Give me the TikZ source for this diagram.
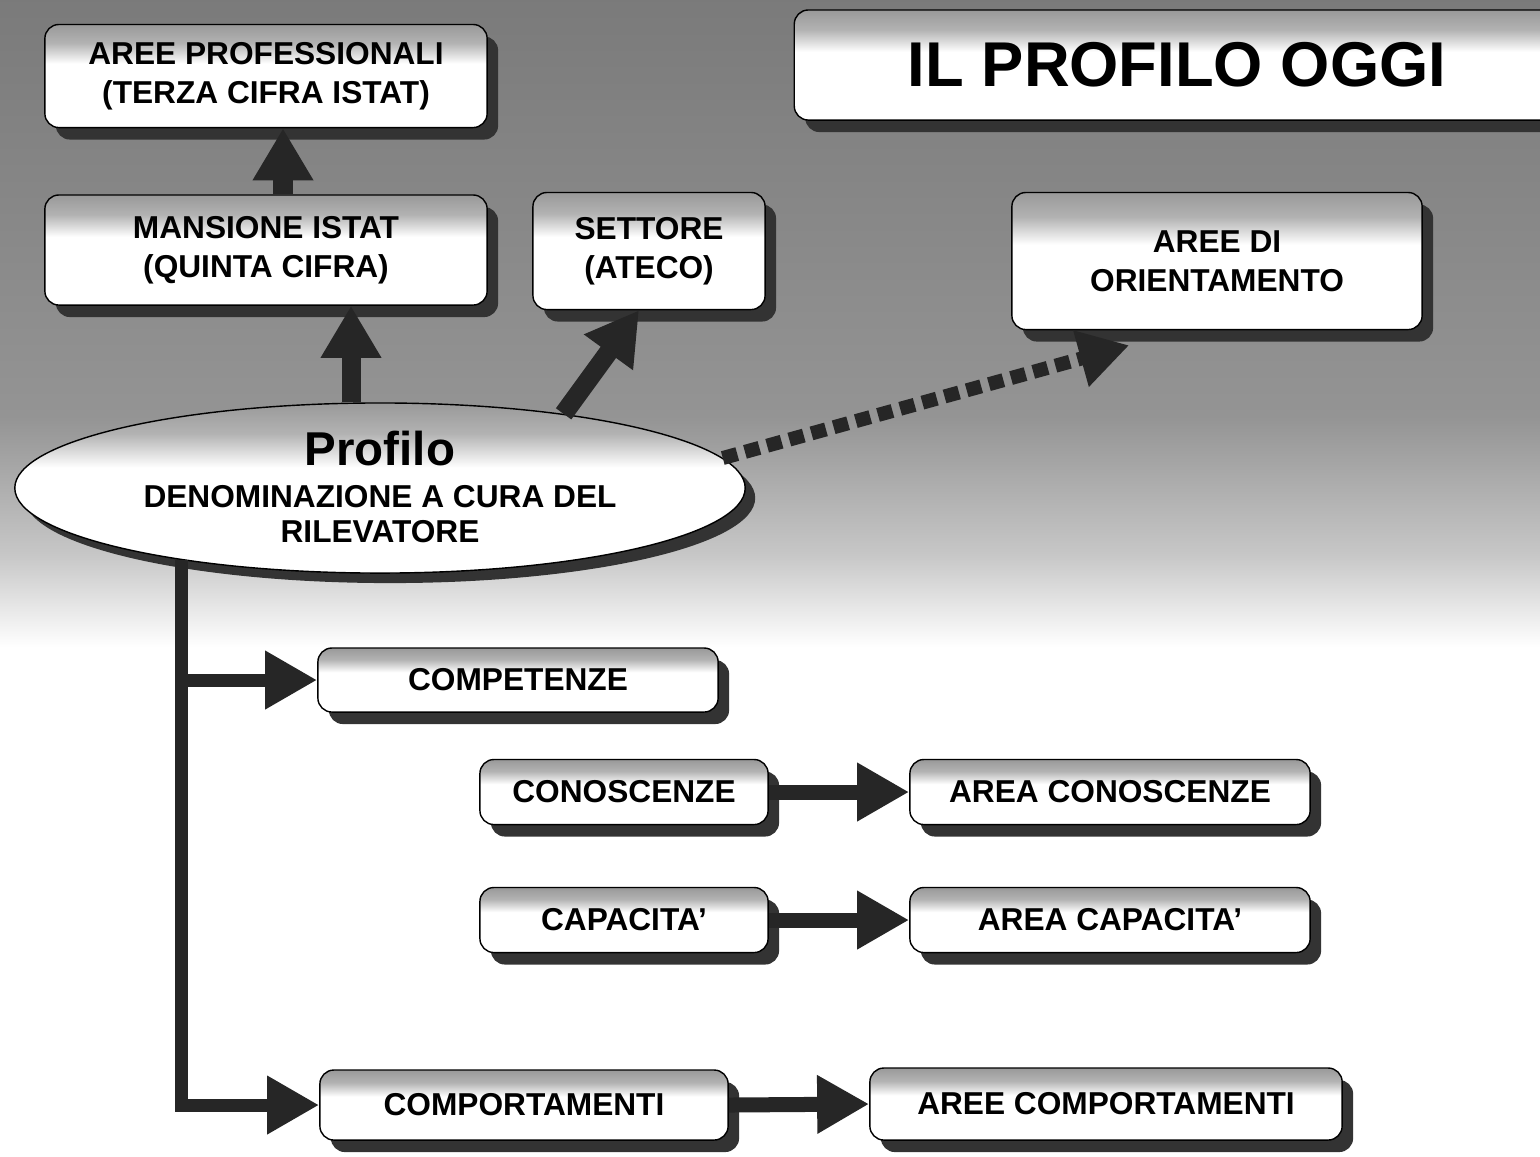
\documentclass[tikz,border=0pt]{standalone}
\usepackage{fontspec}
\setmainfont{Liberation Sans}
\usetikzlibrary{shapes.geometric,shadows,arrows.meta,calc}

\pgfdeclareverticalshading{boxfade}{100bp}{color(0bp)=(white); color(56bp)=(white); color(66bp)=(gray!60); color(75bp)=(gray!80); color(100bp)=(gray!80)}
\pgfdeclareverticalshading{bgfade}{100bp}{color(0bp)=(white); color(47bp)=(white); color(51bp)=(black!22); color(57bp)=(black!42); color(75bp)=(black!52); color(100bp)=(black!52)}

\tikzset{
  box/.style={draw=black, thin, rounded corners=0.14cm, shade, shading=boxfade, align=center, inner sep=0pt,
    font=\fontsize{9}{11}\selectfont\bfseries,
    drop shadow={shadow xshift=0.11cm, shadow yshift=-0.12cm, fill=gray!40!black, opacity=1}},
  ell/.style={ellipse, draw=black, thin, shade, shading=boxfade, inner sep=0pt,
    drop shadow={shadow xshift=0.1cm, shadow yshift=-0.1cm, fill=gray!40!black, opacity=1}},
  blockarr/.style={line width=0.19cm, draw=gray!30!black, -{Triangle[length=0.52cm,width=0.57cm]}},
  flatarr/.style={line width=0.15cm, draw=gray!30!black, -{Triangle[length=0.52cm,width=0.55cm]}},
  trunk/.style={line width=0.13cm, draw=gray!30!black},
  dotarr/.style={line width=0.14cm, draw=gray!30!black, dash pattern=on 0.15cm off 0.08cm, -{Triangle[length=0.5cm,width=0.55cm]}}
}

\begin{document}
\begin{tikzpicture}[x=0.01cm, y=-0.01cm]
    \useasboundingbox (0,0) rectangle (1540,1156);
    \shade[shading=bgfade] (0,0) rectangle (1540,1156);

    \node[box, minimum width=7.65cm, minimum height=1.10cm, font=\fontsize{18}{20}\selectfont\bfseries] (title) at (1177,65) {IL PROFILO OGGI};

    \node[box, minimum width=4.42cm, minimum height=1.03cm] (aree) at (266,76) {AREE PROFESSIONALI\\(TERZA CIFRA ISTAT)};
    \node[box, minimum width=4.42cm, minimum height=1.10cm] (mans) at (266,250) {MANSIONE ISTAT\\(QUINTA CIFRA)};
    \node[box, minimum width=2.32cm, minimum height=1.17cm] (settore) at (649,251) {SETTORE\\(ATECO)};
    \node[box, minimum width=4.10cm, minimum height=1.37cm] (orient) at (1217,261) {AREE DI\\ORIENTAMENTO};

    \node[ell, minimum width=7.3cm, minimum height=1.7cm] (prof) at (380,488) {};
    \node[align=center, font=\fontsize{9}{10}\selectfont\bfseries] (proflbl) at (380,487)
        {{\fontsize{13.5}{15}\selectfont Profilo}\\[2pt] DENOMINAZIONE A CURA DEL\\RILEVATORE};

    \node[box, minimum width=4.00cm, minimum height=0.64cm] (compet) at (518,680) {COMPETENZE};
    \node[box, minimum width=2.88cm, minimum height=0.65cm] (conosc) at (624,792) {CONOSCENZE};
    \node[box, minimum width=4.00cm, minimum height=0.65cm] (areacon) at (1110,792) {AREA CONOSCENZE};
    \node[box, minimum width=2.88cm, minimum height=0.65cm] (capac) at (624,920) {CAPACITA’};
    \node[box, minimum width=4.00cm, minimum height=0.65cm] (areacap) at (1110,920) {AREA CAPACITA’};
    \node[box, minimum width=4.08cm, minimum height=0.70cm] (comport) at (524,1105) {COMPORTAMENTI};
    \node[box, minimum width=4.72cm, minimum height=0.72cm] (areecomp) at (1106,1104) {AREE COMPORTAMENTI};

    \draw[blockarr] ($(mans.north)+(17,0)$) -- ($(aree.south)+(17,0)$);
    \draw[blockarr] ($(prof.north)+(-29,0)$) -- ($(mans.south)+(85,0)$);
    \draw[blockarr] (prof.22) -- ($(settore.south)+(-10,0)$);
    \draw[dotarr] (prof.5) -- ($(orient.south west)+(118,15)$);

    \draw[trunk, -{Triangle[length=0.52cm,width=0.55cm]}] (prof.200) |- (comport.west);
    \draw[trunk, -{Triangle[length=0.52cm,width=0.55cm]}] (prof.200 |- compet.west) -- (compet.west);

    \draw[flatarr] (conosc.east) -- (areacon.west);
    \draw[flatarr] (capac.east) -- (areacap.west);
    \draw[flatarr] (comport.east) -- (areecomp.west);
\end{tikzpicture}
\end{document}
